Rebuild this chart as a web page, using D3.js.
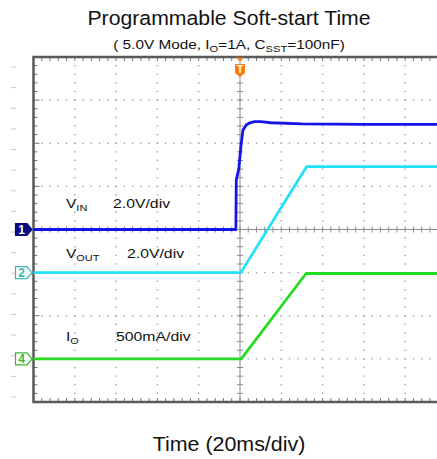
<!DOCTYPE html>
<html>
<head>
<meta charset="utf-8">
<script src="https://cdn.jsdelivr.net/npm/d3@7"></script>
<style>
  html, body { margin: 0; padding: 0; background: #fff; }
  svg { display: block; font-family: "Liberation Sans", Arial, sans-serif; }
</style>
</head>
<body>
<svg id="chart" width="437" height="459"></svg>
<script>
// ---- data (time in ms, trigger at 0; 20 ms/div) ----
const vinTime  = [-100, -2.0, -1.8, -0.6, 0.5, 1.4, 3.0, 4.8, 7, 10, 15, 30, 60, 100];
const vinVolt  = [0, 0, 2.3, 2.8, 3.9, 4.6, 4.85, 4.95, 5.0, 5.0, 4.95, 4.9, 4.88, 4.88];
const voutTime = [-100, 0.4, 32.3, 100];
const voutVolt = [0, 0, 4.92, 4.92];
const ioTime   = [-100, 0.6, 32.0, 100];
const ioAmp    = [0, 0, 0.99, 0.99];

// channel settings: scale per division and offset (divisions)
const channels = [
  {id: "1", name: "V", sub: "IN",  scale: "2.0V/div",  perDiv: 2.0, offset: 0,  color: "#1414e6", mark: "#0a0a80", filled: true},
  {id: "2", name: "V", sub: "OUT", scale: "2.0V/div",  perDiv: 2.0, offset: -1, color: "#22e2fa", mark: "#3bb5b5", filled: false},
  {id: "4", name: "I", sub: "O",   scale: "500mA/div", perDiv: 0.5, offset: -3, color: "#22dd22", mark: "#36b836", filled: false}
];
const traces = [
  {ch: 0, t: vinTime,  v: vinVolt},
  {ch: 1, t: voutTime, v: voutVolt},
  {ch: 2, t: ioTime,   v: ioAmp}
];
const titleText = "Programmable Soft-start Time";
const xAxisLabel = "Time (20ms/div)";

// ---- layout ----
const svg = d3.select("#chart");
const L = 33.5, R = 446.5, T = 57, B = 402;
const x = d3.scaleLinear().domain([-100, 100]).range([L, R]);
const y = d3.scaleLinear().domain([-4, 4]).range([B, T]);

const majorX = d3.range(-100, 100.001, 20);
const minorX = d3.range(-100, 100.001, 4);
const majorY = d3.range(-4, 4.001, 1);
const minorY = d3.range(-4, 4.001, 0.2);

const g = svg.append("g");

// text helper: horizontally stretched text (source chart is stretched)
function stext(parent, px, py, sx, anchor) {
  return parent.append("g").attr("transform", `translate(${px},${py}) scale(${sx},1)`)
    .append("text").attr("text-anchor", anchor || "start").attr("fill", "#111");
}

// faint outer ticks at the left
const faint = d3.scaleLinear().domain([0, 16]).range([67, 397]);
g.append("g").selectAll("line").data(d3.range(0, 17)).join("line")
  .attr("x1", 11).attr("x2", 16)
  .attr("y1", d => faint(d)).attr("y2", d => faint(d))
  .attr("stroke", "#c4c8dc").attr("stroke-width", 1);

// dotted grid
const dots = g.append("g").attr("fill", "#a0a0a0");
majorX.filter(d => d !== -100 && d !== 0 && d !== 100).forEach(tx => {
  minorY.forEach(ty => dots.append("rect").attr("x", x(tx) - 0.7).attr("y", y(ty) - 0.7).attr("width", 1.4).attr("height", 1.4));
});
majorY.filter(d => d !== -4 && d !== 0 && d !== 4).forEach(ty => {
  minorX.forEach(tx => dots.append("rect").attr("x", x(tx) - 0.7).attr("y", y(ty) - 0.7).attr("width", 1.4).attr("height", 1.4));
});

// center cross with ticks
const cross = g.append("g").attr("stroke", "#8a8a8a").attr("stroke-width", 1);
cross.append("line").attr("x1", x(-100)).attr("x2", x(100)).attr("y1", y(0)).attr("y2", y(0));
cross.append("line").attr("x1", x(0)).attr("x2", x(0)).attr("y1", y(4)).attr("y2", y(-4));
minorX.forEach(tx => cross.append("line").attr("x1", x(tx)).attr("x2", x(tx)).attr("y1", y(0) - 3).attr("y2", y(0) + 3));
minorY.forEach(ty => cross.append("line").attr("x1", x(0) - 3).attr("x2", x(0) + 3).attr("y1", y(ty)).attr("y2", y(ty)));

// frame ticks
const ft = g.append("g").attr("stroke", "#777").attr("stroke-width", 1);
minorX.forEach(tx => {
  ft.append("line").attr("x1", x(tx)).attr("x2", x(tx)).attr("y1", T).attr("y2", T + 4);
  ft.append("line").attr("x1", x(tx)).attr("x2", x(tx)).attr("y1", B).attr("y2", B - 4);
});
minorY.forEach(ty => {
  ft.append("line").attr("x1", L).attr("x2", L + (Math.abs(ty - Math.round(ty)) < 1e-6 ? 6 : 4)).attr("y1", y(ty)).attr("y2", y(ty));
});

// frame (left, top, bottom)
g.append("path")
  .attr("d", `M${R},${T}H${L}V${B}H${R}`)
  .attr("fill", "none").attr("stroke", "#5a5a5a").attr("stroke-width", 2.5);

// traces
const line = d3.line().x(d => x(d[0])).y(d => d[1]);
traces.forEach(tr => {
  const c = channels[tr.ch];
  const pts = tr.t.map((t, i) => [t, y(tr.v[i] / c.perDiv + c.offset)]);
  g.append("path").attr("d", line(pts))
    .attr("fill", "none").attr("stroke", c.color).attr("stroke-width", 2.8)
    .attr("stroke-linejoin", "round");
});

// channel markers
channels.forEach(c => {
  const cy = y(c.offset);
  const m = g.append("g").attr("transform", `translate(0,${cy})`);
  m.append("path").attr("d", "M15.5,-6H27L32,0L27,6H15.5Z")
    .attr("fill", c.filled ? c.mark : "#fff").attr("stroke", c.mark).attr("stroke-width", 1.2);
  m.append("text").attr("x", 21.5).attr("y", 4.5).attr("text-anchor", "middle")
    .attr("font-size", 12).attr("font-weight", "bold")
    .attr("fill", c.filled ? "#fff" : c.mark).text(c.id);
});

// channel labels
const labelY = [208, 258, 341];
const scaleX = [113, 127, 116];
channels.forEach((c, i) => {
  const t = stext(g, 66, labelY[i], 1.15).attr("font-size", 13.5);
  t.append("tspan").text(c.name);
  t.append("tspan").attr("font-size", 9.5).attr("dy", 3).text(c.sub);
  stext(g, scaleX[i], labelY[i], 1.17).attr("font-size", 13.5).text(c.scale);
});

// trigger marker
const tg = g.append("g").attr("transform", `translate(${x(0)},0)`);
tg.append("path").attr("d", "M-4,57.5H4L0,61.5Z").attr("fill", "#ff7a10");
tg.append("path").attr("d", "M-5,64H5V73L0,77L-5,73Z").attr("fill", "#ff7a10");
tg.append("text").attr("x", 0).attr("y", 72.5).attr("text-anchor", "middle").attr("font-size", 10)
  .attr("font-weight", "bold").attr("fill", "#fff").text("T");

// titles
stext(svg, 229, 25, 1.09, "middle").attr("font-size", 19.5).text(titleText);
const st = stext(svg, 229, 49, 1.18, "middle").attr("font-size", 13);
st.append("tspan").text("( 5.0V Mode, I");
st.append("tspan").attr("font-size", 9.5).attr("dy", 3).text("O");
st.append("tspan").attr("dy", -3).text("=1A, C");
st.append("tspan").attr("font-size", 9.5).attr("dy", 3).text("SST");
st.append("tspan").attr("dy", -3).text("=100nF)");
stext(svg, 229, 451, 1.07, "middle").attr("font-size", 20).text(xAxisLabel);
</script>
</body>
</html>
